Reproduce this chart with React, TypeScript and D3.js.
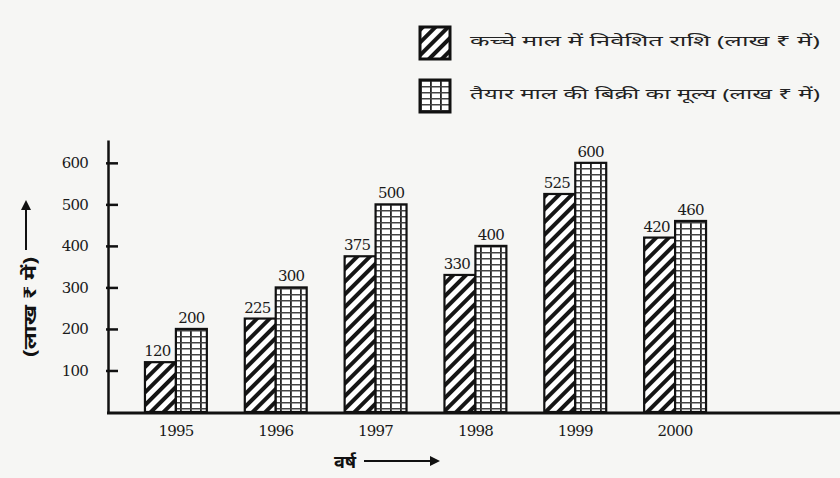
import React, { useEffect, useRef } from "react";
import * as d3 from "d3";

// values (lakh rupees)
const years = ["1995", "1996", "1997", "1998", "1999", "2000"];
const rawMaterial = [120, 225, 375, 330, 525, 420];
const salesValue = [200, 300, 500, 400, 600, 460];
const yTicks = [100, 200, 300, 400, 500, 600];
const legendLabels = [
  "कच्चे माल में निवेशित राशि (लाख ₹ में)",
  "तैयार माल की बिक्री का मूल्य (लाख ₹ में)",
];
const yTitle = "(लाख ₹ में)";
const xTitle = "वर्ष";

const width = 840;
const height = 478;
const numFont = "'DejaVu Serif', 'Liberation Serif', serif";
const hindiFont = "'Noto Sans', 'DejaVu Sans', sans-serif";

export default function App() {
  const ref = useRef<SVGSVGElement>(null);

  useEffect(() => {
    const svg = d3.select(ref.current);
    svg.selectAll("*").remove();

    svg.append("rect").attr("width", width).attr("height", height).attr("fill", "#f6f6f4");

    const defs = svg.append("defs");
    const hatch = defs
      .append("pattern")
      .attr("id", "hatch")
      .attr("patternUnits", "userSpaceOnUse")
      .attr("width", 9)
      .attr("height", 9)
      .attr("patternTransform", "rotate(45)");
    hatch.append("rect").attr("width", 9).attr("height", 9).attr("fill", "#fff");
    hatch.append("rect").attr("width", 4).attr("height", 9).attr("fill", "#151515");

    const grid = defs
      .append("pattern")
      .attr("id", "grid")
      .attr("patternUnits", "userSpaceOnUse")
      .attr("width", 10)
      .attr("height", 6);
    grid.append("rect").attr("width", 10).attr("height", 6).attr("fill", "#fff");
    grid.append("rect").attr("x", 0).attr("width", 1.8).attr("height", 6).attr("fill", "#222");
    grid.append("rect").attr("y", 0).attr("width", 10).attr("height", 1.5).attr("fill", "#444");

    const arrow = defs
      .append("marker")
      .attr("id", "arrow")
      .attr("viewBox", "0 0 10 10")
      .attr("refX", 2)
      .attr("refY", 5)
      .attr("markerWidth", 5)
      .attr("markerHeight", 5)
      .attr("orient", "auto");
    arrow.append("path").attr("d", "M0,0 L10,5 L0,10 z").attr("fill", "#111");

    const x = d3.scaleBand().domain(years).range([115, 736]).paddingInner(0.38).paddingOuter(0.3);
    const y = d3.scaleLinear().domain([0, 655]).range([412, 140]);
    const bw = x.bandwidth() / 2;

    // bars
    const series = [
      { values: rawMaterial, fill: "url(#hatch)", offset: 0 },
      { values: salesValue, fill: "url(#grid)", offset: bw },
    ];
    series.forEach((s) => {
      svg
        .append("g")
        .selectAll("rect")
        .data(years)
        .join("rect")
        .attr("x", (d) => x(d)! + s.offset)
        .attr("y", (d, i) => y(s.values[i]))
        .attr("width", bw)
        .attr("height", (d, i) => y(0) - y(s.values[i]))
        .attr("fill", s.fill)
        .attr("stroke", "#111")
        .attr("stroke-width", 2.2);

      svg
        .append("g")
        .selectAll("text")
        .data(years)
        .join("text")
        .attr("x", (d) => x(d)! + s.offset + bw / 2 - (s.offset ? 0 : 3))
        .attr("y", (d, i) => y(s.values[i]) - 6)
        .attr("text-anchor", "middle")
        .attr("font-family", numFont)
        .attr("font-size", 15)
        .attr("letter-spacing", -0.8)
        .attr("fill", "#1a1a1a")
        .text((d, i) => s.values[i]);
    });

    // y axis
    const yAxis = svg
      .append("g")
      .attr("transform", "translate(108,0)")
      .call(d3.axisLeft(y).tickValues(yTicks).tickSizeInner(-10).tickSizeOuter(0).tickPadding(20));
    yAxis.select(".domain").attr("stroke", "#111").attr("stroke-width", 2.5);
    yAxis.selectAll(".tick line").attr("stroke", "#111").attr("stroke-width", 2.5).attr("x1", -2);
    yAxis
      .selectAll(".tick text")
      .attr("font-family", numFont)
      .attr("font-size", 15)
      .attr("letter-spacing", -0.8)
      .attr("fill", "#1a1a1a");

    // x axis
    svg
      .append("line")
      .attr("x1", 107)
      .attr("x2", width)
      .attr("y1", y(0) + 1)
      .attr("y2", y(0) + 1)
      .attr("stroke", "#111")
      .attr("stroke-width", 3);
    const xAxis = svg
      .append("g")
      .attr("transform", `translate(0,${y(0) + 1})`)
      .call(d3.axisBottom(x).tickSize(0).tickPadding(12));
    xAxis.select(".domain").remove();
    xAxis
      .selectAll(".tick text")
      .attr("font-family", numFont)
      .attr("font-size", 15)
      .attr("letter-spacing", -0.8)
      .attr("fill", "#1a1a1a");

    // axis titles
    svg
      .append("text")
      .attr("transform", "translate(31,307) rotate(-90)")
      .attr("text-anchor", "middle")
      .attr("dominant-baseline", "middle")
      .attr("font-family", hindiFont)
      .attr("font-size", 17)
      .attr("font-weight", "bold")
      .attr("fill", "#111")
      .attr("textLength", 100)
      .attr("lengthAdjust", "spacingAndGlyphs")
      .text(yTitle);
    svg
      .append("line")
      .attr("x1", 26)
      .attr("x2", 26)
      .attr("y1", 250)
      .attr("y2", 208)
      .attr("stroke", "#111")
      .attr("stroke-width", 2)
      .attr("marker-end", "url(#arrow)");

    svg
      .append("text")
      .attr("x", 345)
      .attr("y", 468)
      .attr("text-anchor", "middle")
      .attr("font-family", hindiFont)
      .attr("font-size", 18)
      .attr("font-weight", "bold")
      .attr("fill", "#111")
      .text(xTitle);
    svg
      .append("line")
      .attr("x1", 364)
      .attr("x2", 432)
      .attr("y1", 461)
      .attr("y2", 461)
      .attr("stroke", "#111")
      .attr("stroke-width", 2)
      .attr("marker-end", "url(#arrow)");

    // legend
    const legend = svg
      .append("g")
      .selectAll("g")
      .data(legendLabels)
      .join("g")
      .attr("transform", (d, i) => `translate(420,${27 + i * 53})`);
    legend
      .append("rect")
      .attr("width", 30)
      .attr("height", 32)
      .attr("fill", (d, i) => series[i].fill)
      .attr("stroke", "#111")
      .attr("stroke-width", 3);
    legend
      .append("text")
      .attr("x", 50)
      .attr("y", 15)
      .attr("dominant-baseline", "middle")
      .attr("font-family", hindiFont)
      .attr("font-size", 14)
      .attr("fill", "#222")
      .attr("textLength", 350)
      .attr("lengthAdjust", "spacingAndGlyphs")
      .text((d) => d);
  }, []);

  return (
    <svg
      ref={ref}
      width={width}
      height={height}
      style={{ position: "absolute", left: 0, top: 0, display: "block" }}
    />
  );
}
